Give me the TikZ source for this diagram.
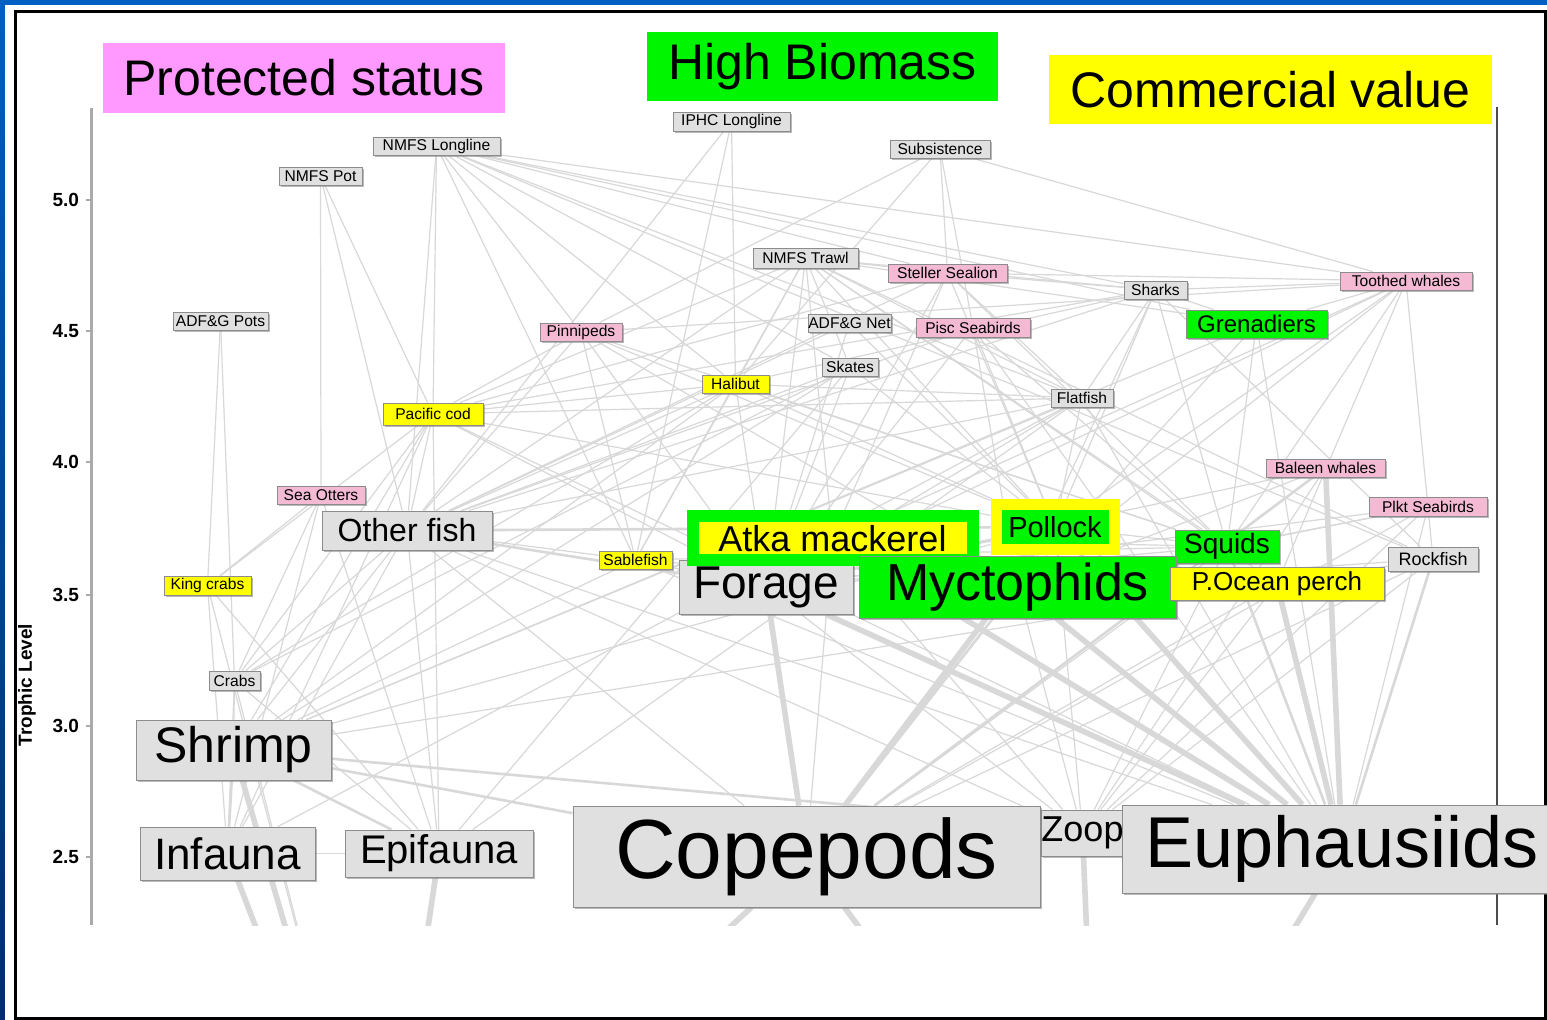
\documentclass[tikz,border=0pt]{standalone}
\usepackage{fontspec}
\setmainfont{Liberation Sans}
\usetikzlibrary{backgrounds,shadows}

\definecolor{slideblue}{RGB}{0,95,195}
\definecolor{slidenavy}{RGB}{0,45,105}
\definecolor{pinkhead}{RGB}{255,153,255}
\definecolor{pinknode}{RGB}{244,186,212}
\definecolor{biomass}{RGB}{0,245,0}
\definecolor{commerce}{RGB}{255,255,0}
\definecolor{boxgray}{RGB}{224,224,224}
\definecolor{webgray}{RGB}{216,216,216}
\definecolor{axisgray}{RGB}{170,170,170}

\tikzset{
  tag/.style={draw=black!45, line width=0.4pt, inner sep=0pt, text=black,
    drop shadow={shadow xshift=0.8pt, shadow yshift=-0.8pt, opacity=0.55}},
  plain/.style={tag, fill=boxgray},
  prot/.style={tag, fill=pinknode},
  comm/.style={tag, fill=commerce},
  biom/.style={tag, fill=biomass},
  sz/.style 2 args={minimum width=#1*0.5pt, minimum height=#2*0.5pt},
  fs/.style={font=\fontsize{#1}{#1}\selectfont},
  small/.style={fs=7.8pt},
  web/.style={webgray, line width=0.6pt},
  webm/.style={webgray, line width=1.3pt},
  webt/.style={webgray, line width=2.8pt},
}

\begin{document}
\begin{tikzpicture}[x=0.5pt, y=-0.5pt]
    \useasboundingbox (0,0) rectangle (1547,1020);

    % Draw slide background and frame
    \begin{scope}[on background layer]
      \shade[top color=slideblue, bottom color=slidenavy] (0,0) rectangle (1547,1020);
      \fill[white] (5,5) rectangle (1547,1020);
      \draw[line width=1.5pt] (15,11.5) rectangle (1545.5,1018.5);
    \end{scope}

    % Draw axes
    \draw[axisgray, line width=1.5pt] (91,108) -- (91,925);
    \draw[black!70, line width=0.8pt] (1497,107) -- (1497,925);
    \foreach \t/\y [count=\i] in {5.0/200, 4.5/331, 4.0/462, 3.5/595, 3.0/726, 2.5/857} {
        \draw[axisgray, line width=0.6pt] (86,\y) -- (91,\y);
        \node[anchor=east, fs=9.5pt] (tick\i) at (86,\y) {\bfseries\t};
      }
    \node[rotate=90, fs=9.5pt] (ylabel) at (27,685) {\bfseries Trophic Level};

    % Draw legend headings
    \node[fill=pinkhead, inner sep=0pt, sz={402}{70}, fs=25pt] (protected) at (304,78) {Protected status};
    \node[fill=biomass, inner sep=0pt, sz={351}{69}, fs=25pt] (highbio) at (822.5,66.5) {High Biomass};
    \node[fill=commerce, inner sep=0pt, sz={443}{69}, fs=25pt] (commval) at (1270.5,89.5) {Commercial value};

    % Draw fleets and predators
    \node[plain, sz={127}{18}, small] (nmfsll) at (436.5,146) {NMFS Longline};
    \node[plain, sz={83}{18}, small] (nmfspot) at (320.5,176) {NMFS Pot};
    \node[plain, sz={117}{19}, small] (iphc) at (731.5,121.5) {IPHC Longline};
    \node[plain, sz={100}{18}, small] (subs) at (940,149) {Subsistence};
    \node[plain, sz={105}{20}, small] (nmfstrawl) at (805.5,258) {NMFS Trawl};
    \node[prot, sz={119}{18}, small] (steller) at (947.5,273) {Steller Sealion};
    \node[plain, sz={63}{18}, small] (sharks) at (1155.5,290) {Sharks};
    \node[prot, sz={132}{18}, small] (toothed) at (1406,281) {Toothed whales};
    \node[plain, sz={95}{18}, small] (adfgpots) at (220.5,321) {ADF\&G Pots};
    \node[prot, sz={82}{18}, small] (pinni) at (581,332) {Pinnipeds};
    \node[plain, sz={83}{18}, small] (adfgnet) at (849.5,323) {ADF\&G Net};
    \node[prot, sz={114}{19}, small] (pisc) at (973,327.5) {Pisc Seabirds};
    \node[biom, sz={141}{28}, fs=12pt] (gren) at (1256.5,324) {Grenadiers};
    \node[plain, sz={56}{18}, small] (skates) at (850,367) {Skates};
    \node[comm, sz={67}{18}, small] (halibut) at (735.5,384) {Halibut};
    \node[comm, sz={100}{22}, small] (pcod) at (433,414) {Pacific cod};
    \node[plain, sz={62}{18}, small] (flatfish) at (1082,398) {Flatfish};
    \node[prot, sz={119}{18}, small] (baleen) at (1325.5,468) {Baleen whales};
    \node[prot, sz={88}{18}, small] (otters) at (321,495) {Sea Otters};
    \node[prot, sz={118}{19}, small] (plkt) at (1428,506.5) {Plkt Seabirds};

    % Draw mid level groups
    \node[plain, sz={170}{39}, fs=16pt] (otherfish) at (407,530.5) {Other fish};
    \node[plain, sz={174}{54}, fs=23pt] (forage) at (766,587) {Forage};
    \node[fill=commerce, draw=biomass, line width=6pt, inner sep=0pt, sz={280}{44}, fs=18pt] (atka) at (832.5,538.5) {Atka mackerel};
    \node[fill=biomass, draw=commerce, line width=5.5pt, inner sep=0pt, sz={118}{45}, fs=14.5pt] (pollock) at (1055,527) {Pollock};
    \node[biom, sz={104}{33}, fs=14pt] (squids) at (1227,546.5) {Squids};
    \node[comm, sz={73}{18}, small] (sable) at (635.5,560) {Sablefish};
    \node[plain, sz={90}{24}, fs=9pt] (rockfish) at (1433,559) {Rockfish};
    \node[comm, sz={87}{19}, small] (kingcrabs) at (207.5,585.5) {King crabs};
    \node[biom, sz={317}{62}, fs=26pt] (mycto) at (1017.5,587) {Myctophids};
    \node[comm, sz={214}{33}, fs=13pt] (pop) at (1277,583.5) {P.Ocean perch};
    \node[plain, sz={51}{19}, small] (crabs) at (234.5,680.5) {Crabs};

    % Draw low level groups
    \node[plain, sz={195}{60}, fs=25pt] (shrimp) at (233.5,750) {Shrimp};
    \node[plain, sz={175}{53}, fs=22pt] (infauna) at (227.5,853.5) {Infauna};
    \node[plain, sz={188}{47}, fs=20pt] (epifauna) at (439,853.5) {Epifauna};
    \node[plain, sz={467}{101}, fs=42pt] (copepods) at (806.5,856.5) {Copepods};
    \node[plain, sz={83}{46}, fs=18pt] (zoop) at (1082.5,833) {Zoop};
    \node[plain, sz={440}{88}, fs=36pt] (euph) at (1342,849) {Euphausiids};

    % Links leaving the plot at the bottom
    \coordinate (phyto) at (1100,1250);
    \coordinate (detritus) at (380,1250);

    % Draw feeding and catch links
    \begin{scope}[on background layer]
      \clip (91,108) rectangle (1497,925);
      \foreach \a/\b in {nmfspot/pcod, nmfspot/otherfish, nmfspot/otters,
          adfgpots/kingcrabs, adfgpots/crabs,
          nmfsll/pcod, nmfsll/otherfish, nmfsll/sable, nmfsll/halibut, nmfsll/skates, nmfsll/sharks,
          nmfsll/gren, nmfsll/flatfish, nmfsll/rockfish, nmfsll/pinni, nmfsll/steller, nmfsll/toothed,
          iphc/halibut, iphc/sable, iphc/otherfish,
          subs/steller, subs/pisc, subs/pinni, subs/halibut, subs/toothed,
          nmfstrawl/pcod, nmfstrawl/pollock, nmfstrawl/atka, nmfstrawl/flatfish, nmfstrawl/skates,
          nmfstrawl/rockfish, nmfstrawl/pop, nmfstrawl/sable, nmfstrawl/gren, nmfstrawl/sharks,
          nmfstrawl/halibut, nmfstrawl/otherfish, nmfstrawl/squids, nmfstrawl/forage, nmfstrawl/steller,
          adfgnet/forage, adfgnet/otherfish, adfgnet/pollock,
          steller/pollock, steller/atka, steller/pcod, steller/forage, steller/otherfish, steller/squids,
          steller/flatfish, steller/sharks, steller/toothed,
          pisc/forage, pisc/pollock, pisc/mycto, pisc/squids, pisc/euph, pisc/otherfish,
          pinni/pollock, pinni/forage, pinni/pcod, pinni/squids, pinni/otherfish, pinni/mycto,
          pinni/sable, pinni/toothed,
          sharks/pollock, sharks/gren, sharks/squids, sharks/mycto, sharks/flatfish, sharks/pcod,
          sharks/halibut, sharks/otherfish, sharks/toothed, sharks/rockfish,
          toothed/gren, toothed/squids, toothed/pollock, toothed/mycto, toothed/rockfish, toothed/pop,
          toothed/forage, toothed/atka,
          gren/mycto, gren/squids, gren/euph, gren/shrimp,
          flatfish/infauna, flatfish/epifauna, flatfish/shrimp, flatfish/forage, flatfish/pollock,
          flatfish/euph, flatfish/otherfish,
          halibut/pcod, halibut/pollock, halibut/flatfish, halibut/crabs, halibut/shrimp,
          halibut/otherfish, halibut/forage, halibut/squids, halibut/sable,
          skates/epifauna, skates/shrimp, skates/otherfish, skates/forage, skates/pollock, skates/crabs,
          pcod/shrimp, pcod/crabs, pcod/kingcrabs, pcod/epifauna, pcod/infauna, pcod/forage,
          pcod/pollock, pcod/otherfish, pcod/flatfish, pcod/euph,
          baleen/forage, baleen/zoop, baleen/mycto,
          plkt/euph, plkt/copepods, plkt/zoop, plkt/mycto, plkt/squids, plkt/forage,
          otters/epifauna, otters/infauna, otters/crabs, otters/kingcrabs,
          otherfish/shrimp, otherfish/epifauna, otherfish/infauna, otherfish/copepods,
          otherfish/euph, otherfish/zoop, otherfish/crabs,
          atka/copepods, atka/mycto, atka/zoop, atka/squids,
          pollock/mycto, pollock/squids, pollock/zoop, pollock/shrimp,
          squids/copepods, squids/mycto, squids/zoop, squids/forage,
          sable/forage, sable/mycto, sable/squids, sable/euph, sable/otherfish, sable/shrimp,
          rockfish/copepods, rockfish/mycto, rockfish/zoop, rockfish/shrimp,
          pop/copepods, pop/mycto, pop/zoop,
          kingcrabs/infauna, kingcrabs/epifauna,
          forage/zoop, mycto/zoop, crabs/infauna, crabs/epifauna, crabs/shrimp,
          infauna/epifauna, crabs/detritus, kingcrabs/detritus}
        \draw[web] (\a) -- (\b);
      \foreach \a/\b in {otherfish/pollock, shrimp/euph, otherfish/forage, pollock/forage,
          squids/euph, rockfish/euph, atka/forage, mycto/copepods, baleen/copepods,
          shrimp/copepods, epifauna/shrimp, infauna/shrimp}
        \draw[webm] (\a) -- (\b);
      \foreach \a/\b in {pollock/euph, pollock/copepods, forage/copepods, forage/euph,
          mycto/euph, baleen/euph, pop/euph, atka/euph,
          copepods/phyto, euph/phyto, zoop/phyto, copepods/detritus,
          infauna/detritus, epifauna/detritus, shrimp/detritus}
        \draw[webt] (\a) -- (\b);
    \end{scope}
  \end{tikzpicture}
\end{document}
